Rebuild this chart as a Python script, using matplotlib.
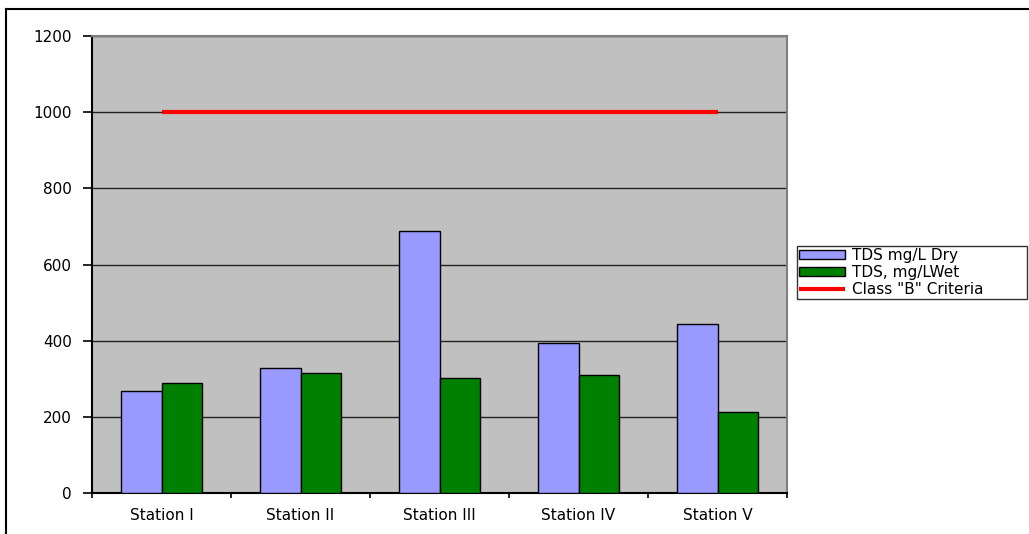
import matplotlib
matplotlib.use("Agg")
import matplotlib.pyplot as plt
import numpy as np
from matplotlib.lines import Line2D

plt.rcParams['font.family'] = ['DejaVu Sans']

stations = ["Station I", "Station II", "Station III", "Station IV", "Station V"]
tds_dry = [268, 328, 688, 393, 445]
tds_wet = [290, 315, 303, 310, 212]
class_b = [1000, 1000, 1000, 1000, 1000]
yticks = [0, 200, 400, 600, 800, 1000, 1200]

W, H = 1029, 534
fig = plt.figure(figsize=(W / 100, H / 100), dpi=100)
fig.patch.set_facecolor("white")

ax = fig.add_axes([92 / W, 1 - 493 / H, (787 - 92) / W, (493 - 36) / H])
ax.set_facecolor("#C0C0C0")

x = np.arange(len(stations))
bw = 0.288
ax.bar(x - bw / 2, tds_dry, bw, color="#9999FF", edgecolor="black", linewidth=1.0,
       label="TDS mg/L Dry", zorder=3)
ax.bar(x + bw / 2, tds_wet, bw, color="#008000", edgecolor="black", linewidth=1.0,
       label="TDS, mg/LWet", zorder=3)
ax.plot(x, class_b, color="#FF0000", linewidth=3, label='Class "B" Criteria',
        zorder=4, solid_capstyle="butt")

ax.set_xlim(-0.5, len(stations) - 0.5)
ax.set_ylim(0, 1200)
ax.set_yticks(yticks)
ax.set_yticklabels([str(v) for v in yticks], fontsize=11)
ax.yaxis.grid(True, color="#222222", linewidth=1.0, zorder=1)
ax.set_axisbelow(True)

# category labels centred, tick marks on category boundaries
ax.set_xticks(x)
ax.set_xticklabels(stations, fontsize=11)
ax.tick_params(axis="x", which="major", length=0, pad=11)
ax.set_xticks(np.arange(-0.5, len(stations) + 0.5, 1), minor=True)
ax.tick_params(axis="x", which="minor", length=3.5, width=1.2, direction="out", color="black")
ax.tick_params(axis="y", length=6.5, width=1.2, direction="out", color="black", pad=8)

for side in ("top", "right"):
    ax.spines[side].set_color("#808080")
    ax.spines[side].set_linewidth(1.5)
for side in ("left", "bottom"):
    ax.spines[side].set_color("black")
    ax.spines[side].set_linewidth(1.5)

handles, labels = ax.get_legend_handles_labels()
order = [1, 2, 0]
leg = fig.legend([handles[i] for i in order], [labels[i] for i in order],
                 loc="upper left",
                 bbox_to_anchor=(797 / W, 1 - 297 / H, (1027 - 797) / W, (297 - 246) / H),
                 mode="expand",
                 fontsize=11, frameon=True, fancybox=False, edgecolor="black",
                 handlelength=3.0, handleheight=0.55, handletextpad=0.45,
                 borderpad=0.15, labelspacing=0.12, borderaxespad=0)
leg.get_frame().set_linewidth(1.0)

# outer chart border (left and top edges)
fig.add_artist(Line2D([6 / W, 6 / W], [0, 1 - 9 / H], color="black", linewidth=1.5,
                      transform=fig.transFigure))
fig.add_artist(Line2D([6 / W, 1], [1 - 9 / H, 1 - 9 / H], color="black", linewidth=1.5,
                      transform=fig.transFigure))

fig.savefig("out.png", dpi=100)
